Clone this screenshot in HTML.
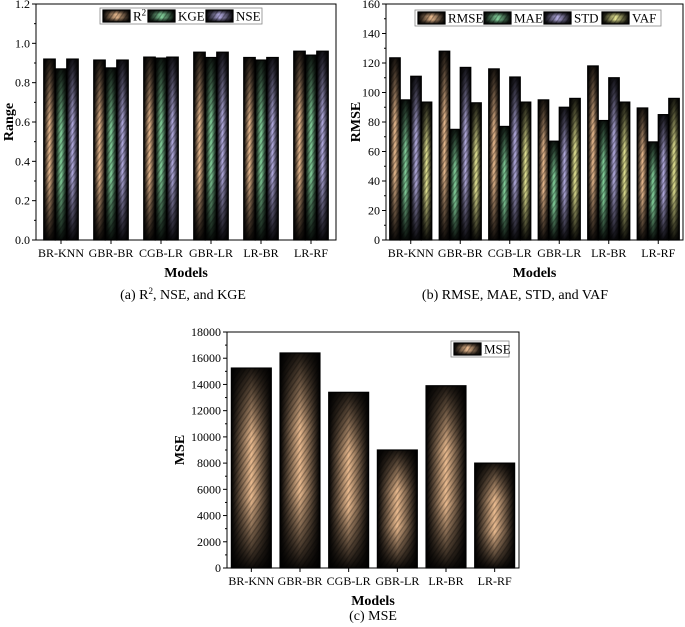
<!DOCTYPE html>
<html><head><meta charset="utf-8"><style>
html,body{margin:0;padding:0;background:#fff;width:685px;height:627px;overflow:hidden}
svg{display:block;font-family:"Liberation Serif",serif}
</style></head><body>
<svg id="s" width="685" height="627" viewBox="0 0 685 627">
<defs>
<pattern id="hatch" width="4" height="4" patternUnits="userSpaceOnUse" patternTransform="rotate(35)">
<rect width="1.3" height="4" fill="#000" fill-opacity="0.3"/></pattern>
<linearGradient id="vshade" x1="0" y1="0" x2="0" y2="1">
<stop offset="0" stop-color="#000" stop-opacity="0.9"/><stop offset="0.35" stop-color="#000" stop-opacity="0.05"/>
<stop offset="0.65" stop-color="#000" stop-opacity="0.05"/><stop offset="1" stop-color="#000" stop-opacity="0.95"/></linearGradient>
</defs>
</svg>
<script>
const models=["BR-KNN","GBR-BR","CGB-LR","GBR-LR","LR-BR","LR-RF"];
const r2Vals=[0.92,0.915,0.93,0.955,0.928,0.96];
const kgeVals=[0.87,0.875,0.925,0.928,0.915,0.94];
const nseVals=[0.92,0.915,0.93,0.955,0.928,0.96];
const rmseVals=[123.5,128,116,95,118,89.5];
const maeVals=[95,75,77,67,81,66.5];
const stdVals=[111,117,110.5,90,110,85];
const vafVals=[93.5,93,93.5,96,93.5,96];
const mseVals=[15250,16400,13400,9000,13900,8000];
const ticksA=["0.0","0.2","0.4","0.6","0.8","1.0","1.2"];
const ticksB=["0","20","40","60","80","100","120","140","160"];
const ticksC=["0","2000","4000","6000","8000","10000","12000","14000","16000","18000"];

const NS="http://www.w3.org/2000/svg";
const svg=document.getElementById('s');
const defs=svg.querySelector('defs');
function mk(tag,attrs,parent){const e=document.createElementNS(NS,tag);for(const k in attrs)e.setAttribute(k,attrs[k]);(parent||svg).appendChild(e);return e;}
const colors={tan:"#f6c496",green:"#8adca4",lav:"#bcb4ec",yel:"#f0f09a"};
for(const c in colors){
  const g=mk('linearGradient',{id:'g-'+c,x1:0,y1:0,x2:1,y2:0},defs);
  mk('stop',{offset:0,'stop-color':'#000'},g);mk('stop',{offset:0.5,'stop-color':colors[c]},g);mk('stop',{offset:1,'stop-color':'#000'},g);
}
function bar(parent,x,y,w,h,c){
  const g=mk('g',{},parent);
  mk('rect',{x:x,y:y,width:w,height:h,fill:'url(#g-'+c+')'},g);
  mk('rect',{x:x,y:y,width:w,height:h,fill:'url(#vshade)'},g);
  mk('rect',{x:x,y:y,width:w,height:h,fill:'url(#hatch)'},g);
  mk('rect',{x:x,y:y,width:w,height:h,fill:'none',stroke:'#000','stroke-width':1.2},g);
  return g;
}
function chart(o){
  const g=mk('g',{});
  
  
  const L=o.l,R=o.r,T=o.t,B=o.b,max=o.max;
  const yS=v=>B-(v/max)*(B-T);
  const step=(R-L)/models.length;
  models.forEach((m,i)=>{
    const gw=step*o.gfrac, x0=L+step*i+(step-gw)/2, bw=gw/o.series.length;
    o.series.forEach((s,j)=>{
      const v=s.vals[i];
      const b=bar(g,x0+j*bw,yS(v),bw,B-yS(v),s.c);
      
      
    });
    const t=mk('text',{x:L+step*(i+0.5),y:B+17,'text-anchor':'middle','font-size':12},g);t.textContent=m;
    
    
    mk('line',{x1:L+step*(i+0.5),x2:L+step*(i+0.5),y1:B,y2:B+4,stroke:'#000'},g);
  });
  mk('rect',{x:L,y:T,width:R-L,height:B-T,fill:'none',stroke:'#000','stroke-width':1},g);
  const n=o.ticks.length-1;
  o.ticks.forEach((t,i)=>{
    const v=max*i/n,y=yS(v);
    mk('line',{x1:L-4,x2:L,y1:y,y2:y,stroke:'#000'},g);
    const tx=mk('text',{x:L-6,y:y+4,'text-anchor':'end','font-size':12},g);tx.textContent=t;
    
    
    if(i<n){const ym=yS(max*(i+0.5)/n);mk('line',{x1:L-2,x2:L,y1:ym,y2:ym,stroke:'#000'},g);}
  });
  const yt=mk('text',{x:0,y:0,'text-anchor':'middle','font-size':14,'font-weight':'bold',transform:`translate(${o.ytx},${(T+B)/2}) rotate(-90)`},g);yt.textContent=o.ytitle;
  
  
  const xt=mk('text',{x:(L+R)/2,y:B+37,'text-anchor':'middle','font-size':14,'font-weight':'bold'},g);xt.textContent='Models';
  
  
  const lg=mk('g',{},g);
  
  
  mk('rect',{x:o.lg.x,y:o.lg.y,width:o.lg.w,height:16,fill:'#fff',stroke:'#888','stroke-width':0.8},lg);
  let x=o.lg.x+3;
  o.series.forEach((s,j)=>{
    const e=mk('g',{},lg);
    
    
    bar(e,x,o.lg.y+2,o.lg.sw,12,s.c);
    const t=mk('text',{x:x+o.lg.sw+3,y:o.lg.y+12.5,'font-size':13},e);
    t.innerHTML=s.label;
    x+=o.lg.step[j];
  });
  const cap=mk('text',{x:o.capx,y:o.capy,'text-anchor':'middle','font-size':14},g);cap.innerHTML=o.cap;
  
  
}
chart({name:'chart-r2-nse-kge',l:36,r:336,t:4,b:240,max:1.2,ticks:ticksA,gfrac:0.69,ytx:13,ytitle:'Range',
  series:[{key:'r2',vals:r2Vals,c:'tan',label:'R<tspan dy="-5" font-size="9">2</tspan>'},{key:'kge',vals:kgeVals,c:'green',label:'KGE'},{key:'nse',vals:nseVals,c:'lav',label:'NSE'}],
  lg:{x:100,y:8,w:162,sw:27,step:[45,58,58]},capx:183,capy:299,cap:'(a)  R<tspan dy="-5" font-size="9">2</tspan><tspan dy="5">, NSE, and KGE</tspan>'});
chart({name:'chart-rmse-mae-std-vaf',l:386,r:683,t:4,b:240,max:160,ticks:ticksB,gfrac:0.85,ytx:360,ytitle:'RMSE',
  series:[{key:'rmse',vals:rmseVals,c:'tan',label:'RMSE'},{key:'mae',vals:maeVals,c:'green',label:'MAE'},{key:'std',vals:stdVals,c:'lav',label:'STD'},{key:'vaf',vals:vafVals,c:'yel',label:'VAF'}],
  lg:{x:415,y:10,w:246,sw:27,step:[66,60,58,58]},capx:515,capy:299,cap:'(b)  RMSE, MAE, STD, and VAF'});
chart({name:'chart-mse',l:227,r:519,t:332,b:568,max:18000,ticks:ticksC,gfrac:0.82,ytx:184,ytitle:'MSE',
  series:[{key:'mse',vals:mseVals,c:'tan',label:'MSE'}],
  lg:{x:451,y:341,w:58,sw:27,step:[58]},capx:373,capy:620,cap:'(c) MSE'});
</script>
</body></html>
